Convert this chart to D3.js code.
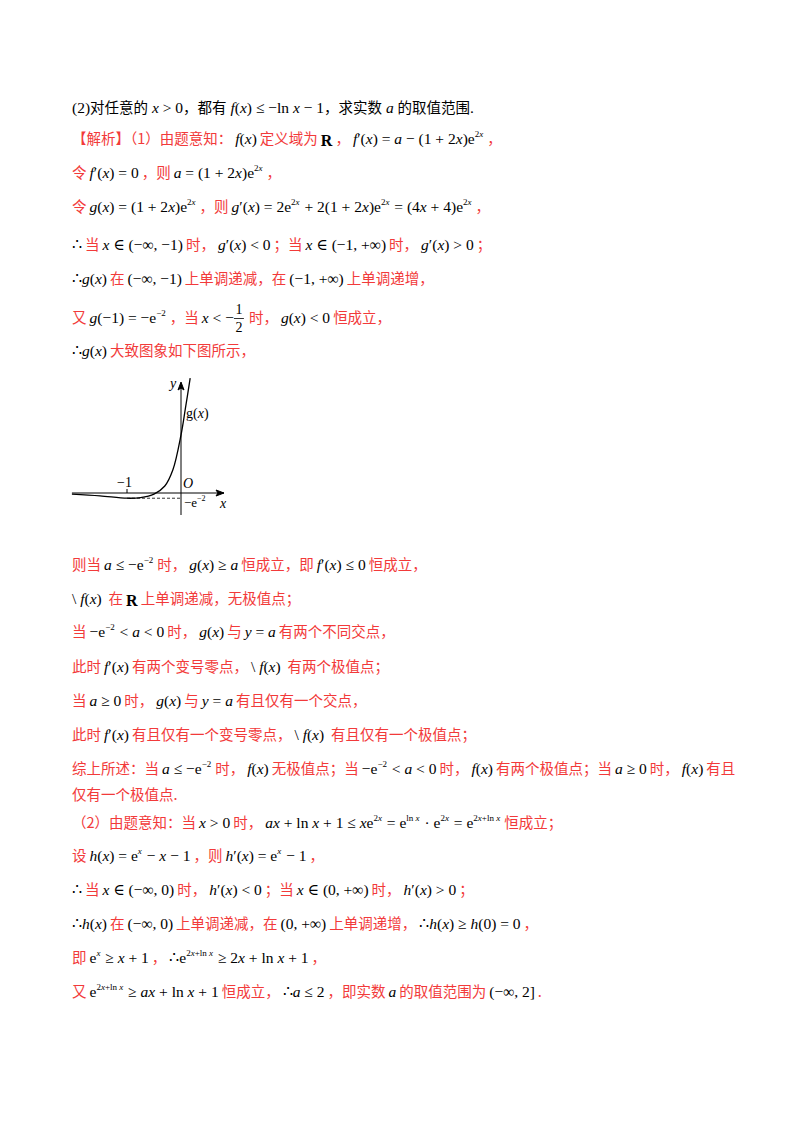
<!DOCTYPE html>
<html><head><meta charset="utf-8">
<script src="https://cdn.jsdelivr.net/npm/d3@7"></script>
<style>body{margin:0;background:#fff}</style>
</head><body>
<svg id="page" width="800" height="1132"></svg>
<script>
// text lines: {..} red chinese, ^..^ superscript, ~a/b~ fraction, *..* bold
var linesTop = [
  [113, "(2)对任意的 x > 0，都有 f(x) ≤ −ln x − 1，求实数 a 的取值范围.", "plain"],
  [144, "{【解析】（1）由题意知：}f(x){定义域为}*R*{，}f′(x) = a − (1 + 2x)e^2x^{，}"],
  [178, "{令}f′(x) = 0{，则}a = (1 + 2x)e^2x^{，}"],
  [212, "{令}g(x) = (1 + 2x)e^2x^{，则}g′(x) = 2e^2x^ + 2(1 + 2x)e^2x^ = (4x + 4)e^2x^{，}"],
  [250, "∴{当}x ∈ (−∞, −1){时，}g′(x) < 0{；当}x ∈ (−1, +∞){时，}g′(x) > 0{；}"],
  [284, "∴g(x){在}(−∞, −1){上单调递减，在}(−1, +∞){上单调递增，}"],
  [323, "{又}g(−1) = −e^−2^{，当}x < −~1/2~{时，}g(x) < 0{恒成立，}"],
  [356, "∴g(x){大致图象如下图所示，}"]
];
var linesBottom = [
  [570, "{则当}a ≤ −e^−2^{时，}g(x) ≥ a{恒成立，即}f′(x) ≤ 0{恒成立，}"],
  [604, "\\ f(x) {在}*R*{上单调递减，无极值点；}"],
  [637, "{当}−e^−2^ < a < 0{时，}g(x){与}y = a{有两个不同交点，}"],
  [672, "{此时}f′(x){有两个变号零点，}\\ f(x) {有两个极值点；}"],
  [706, "{当}a ≥ 0{时，}g(x){与}y = a{有且仅有一个交点，}"],
  [740, "{此时}f′(x){有且仅有一个变号零点，}\\ f(x) {有且仅有一个极值点；}"],
  [774, "{综上所述：当}a ≤ −e^−2^{时，}f(x){无极值点；当}−e^−2^ < a < 0{时，}f(x){有两个极值点；当}a ≥ 0{时，}f(x){有且}"],
  [800, "{仅有一个极值点.}"],
  [828, "{（2）由题意知：当}x > 0{时，}ax + ln x + 1 ≤ xe^2x^ = e^ln x^ · e^2x^ = e^2x+ln x^{恒成立；}"],
  [861, "{设}h(x) = e^x^ − x − 1{，则}h′(x) = e^x^ − 1{，}"],
  [895, "∴{当}x ∈ (−∞, 0){时，}h′(x) < 0{；当}x ∈ (0, +∞){时，}h′(x) > 0{；}"],
  [929, "∴h(x){在}(−∞, 0){上单调递减，在}(0, +∞){上单调递增，}∴h(x) ≥ h(0) = 0{，}"],
  [963, "{即}e^x^ ≥ x + 1{，}∴e^2x+ln x^ ≥ 2x + ln x + 1{，}"],
  [997, "{又}e^2x+ln x^ ≥ ax + ln x + 1{恒成立，}∴a ≤ 2{，即实数}a{的取值范围为}(−∞, 2]{.}"]
];

// curve points (graph units)
var curveX = [-2.02, -1.5, -1.0, -0.75, -0.5, -0.3, -0.15, 0, 0.08, 0.17];
var curveY = [-0.02, -0.05, -0.09, -0.08, -0.02, 0.12, 0.4, 1.0, 1.45, 1.98];
var dipY = -0.09;

var svg = d3.select("#page");
var RED = "#f23a3a", CJK = "'Noto Sans CJK SC', sans-serif", SERIF = "'Liberation Serif', 'DejaVu Serif', serif";

function tokenize(s) {
  var out = [], re = /\{([^}]*)\}|\^([^^]*)\^|~([^~]*)~|\*([^*]*)\*|([^{^~*]+)/g, m;
  while ((m = re.exec(s))) {
    if (m[1] !== undefined) out.push({t: "red", v: m[1]});
    else if (m[2] !== undefined) out.push({t: "sup", v: m[2]});
    else if (m[3] !== undefined) out.push({t: "frac", v: m[3]});
    else if (m[4] !== undefined) out.push({t: "bold", v: m[4]});
    else out.push({t: "math", v: m[5]});
  }
  return out;
}

function mathRuns(v) {
  // italic for single latin letters, upright for ln, e, digits, symbols
  var runs = [], re = /(ln)|(e)|([a-z])|([^a-z]+)/g, m;
  while ((m = re.exec(v))) {
    if (m[3]) runs.push({v: m[3], it: true});
    else runs.push({v: m[0], it: false});
  }
  return runs;
}

function put(g, x, y, v, opt) {
  var t = g.append("text").attr("x", x).attr("y", y).text(v)
    .attr("font-family", opt.family).attr("font-size", opt.size)
    .attr("fill", opt.fill || "#000")
    .attr("font-style", opt.it ? "italic" : "normal")
    .attr("font-weight", opt.bold ? "bold" : "normal")
    .style("white-space", "pre").attr("xml:space", "preserve");
  return t.node().getComputedTextLength();
}

function drawLine(y, s, plain) {
  var g = svg.append("g"), x = 72, prev = null;
  tokenize(s).forEach(function(tk) {
    if (prev && prev !== tk.t && (prev === "red" || tk.t === "red") && !plain) x += 3;
    prev = tk.t === "sup" || tk.t === "frac" || tk.t === "bold" ? "math" : tk.t;
    if (tk.t === "red") {
      x += put(g, x, y, tk.v, {family: CJK, size: 14.5, fill: plain ? "#000" : RED});
    } else if (tk.t === "sup") {
      mathRuns(tk.v).forEach(function(r) {
        x += put(g, x, y - 7, r.v, {family: SERIF, size: 9, it: r.it});
      });
      x += 1;
    } else if (tk.t === "frac") {
      var p = tk.v.split("/");
      g.append("text").attr("x", x + 5).attr("y", y - 9).attr("text-anchor", "middle")
        .attr("font-family", SERIF).attr("font-size", 14).text(p[0]);
      g.append("line").attr("x1", x).attr("x2", x + 10).attr("y1", y - 4.5).attr("y2", y - 4.5)
        .attr("stroke", "#000").attr("stroke-width", 0.8);
      g.append("text").attr("x", x + 5).attr("y", y + 9).attr("text-anchor", "middle")
        .attr("font-family", SERIF).attr("font-size", 14).text(p[1]);
      x += 12;
    } else if (tk.t === "bold") {
      x += put(g, x, y + 2, tk.v, {family: SERIF, size: 16, bold: true});
    } else {
      var pieces = tk.v.split(/([\u3000-\u303f\u4e00-\u9fa5\uff00-\uffef]+)/);
      pieces.forEach(function(pc, i) {
        if (!pc) return;
        if (i % 2 === 1) x += put(g, x, y, pc, {family: CJK, size: 14.5});
        else mathRuns(pc).forEach(function(r) {
          x += put(g, x, y, r.v, {family: SERIF, size: 15.5, it: r.it});
        });
      });
    }
  });
}

linesTop.forEach(function(l) { drawLine(l[0], l[1], l[2] === "plain"); });
linesBottom.forEach(function(l) { drawLine(l[0], l[1]); });

// graph
var xs = d3.scaleLinear().domain([-2, 0]).range([73, 181]);
var ys = d3.scaleLinear().domain([0, 1]).range([493, 435]);
var gg = svg.append("g").attr("fill", "none").attr("stroke", "#000");
gg.append("line").attr("x1", xs(-2.02)).attr("x2", 224).attr("y1", ys(0)).attr("y2", ys(0)).attr("stroke-width", 1);
gg.append("line").attr("x1", xs(0)).attr("x2", xs(0)).attr("y1", 515).attr("y2", 383).attr("stroke-width", 1);
gg.append("path").attr("d", "M224,493 l-8,-3 l2,3 l-2,3 z").attr("fill", "#000");
gg.append("path").attr("d", "M181,382 l-3,8 l3,-2 l3,2 z").attr("fill", "#000");
gg.append("line").attr("x1", xs(-1)).attr("x2", xs(-1)).attr("y1", ys(0) - 4).attr("y2", ys(0)).attr("stroke-width", 1);
gg.append("line").attr("x1", xs(-1)).attr("x2", xs(0)).attr("y1", ys(dipY)).attr("y2", ys(dipY))
  .attr("stroke-dasharray", "3,2").attr("stroke-width", 0.8);
var pts = curveX.map(function(x, i) { return [x, curveY[i]]; });
gg.append("path").attr("d", d3.line().x(function(d) { return xs(d[0]); }).y(function(d) { return ys(d[1]); })
  .curve(d3.curveCatmullRom.alpha(0.5))(pts)).attr("stroke-width", 1.3);
var lab = svg.append("g").attr("font-family", SERIF).attr("font-size", 14);
lab.append("text").attr("x", 170).attr("y", 388).attr("font-style", "italic").text("y");
var gl = lab.append("text").attr("x", 186).attr("y", 418).text("g(");
gl.append("tspan").attr("font-style", "italic").text("x");
gl.append("tspan").text(")");
lab.append("text").attr("x", 117).attr("y", 487).text("−1");
lab.append("text").attr("x", 183).attr("y", 488).attr("font-style", "italic").text("O");
lab.append("text").attr("x", 184).attr("y", 507).attr("font-size", 13).text("−e").append("tspan").attr("font-size", 8).attr("dy", -6).text("−2");
lab.append("text").attr("x", 220).attr("y", 508).attr("font-style", "italic").text("x");
</script>
</body></html>
